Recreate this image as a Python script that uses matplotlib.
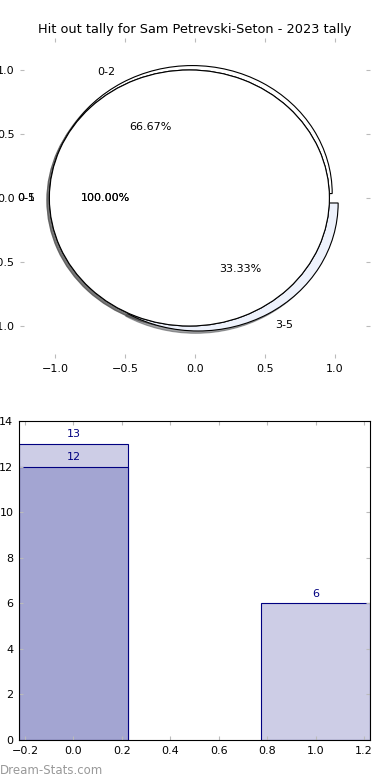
import matplotlib
matplotlib.use('Agg')
import matplotlib.pyplot as plt

# ---- data ----
title = "Hit out tally for Sam Petrevski-Seton - 2023 tally"
split_labels = ["0-2", "3-5"]
split_values = [12, 6]
split_colors = ["#ffffff", "#eef2fc"]
full_labels_a = ["0-5"]
full_values_a = [18]
full_labels_b = ["0-1"]
full_values_b = [18]
pie_ticks = [-1.0, -0.5, 0.0, 0.5, 1.0]

bar_x = [0, 1]
bar_light = [13, 6]
bar_dark_x = [0]
bar_dark = [12]
bar_xticks = [-0.2, 0.0, 0.2, 0.4, 0.6, 0.8, 1.0, 1.2]
bar_yticks = [0, 2, 4, 6, 8, 10, 12, 14]

plt.rcParams['font.family'] = ['DejaVu Sans']

W, H = 390, 780
fig = plt.figure(figsize=(W / 100, H / 100), dpi=100)

def box(l, t, r, b):
    return [l / W, 1 - b / H, (r - l) / W, (b - t) / H]

# ---- pie axes ----
ax1 = fig.add_axes(box(20, 38, 370, 358))
common = dict(autopct='%1.2f%%', shadow=dict(ox=-0.013, oy=-0.013), frame=True,
              wedgeprops=dict(edgecolor='black', linewidth=0.8),
              textprops=dict(fontsize=8))
ax1.pie(split_values, labels=split_labels, colors=split_colors,
        explode=[0.04, 0.045], **common)
ax1.pie(full_values_b, labels=full_labels_b, colors=["#ffffff"], explode=[0.04], **common)
ax1.pie(full_values_a, labels=full_labels_a, colors=["#ffffff"], explode=[0.04], **common)
ax1.set_aspect('auto')
ax1.set_xlim(-1.25, 1.25)
ax1.set_ylim(-1.25, 1.25)
ax1.set_xticks(pie_ticks)
ax1.set_yticks(pie_ticks)
for s in ax1.spines.values():
    s.set_visible(False)
ax1.tick_params(direction='in', color='#bbbbbb', length=3, labelsize=8,
                top=True, right=True, pad=4)

fig.text(195 / W, 1 - 30 / H, title, ha='center', va='center', fontsize=9.3)

# ---- bar axes ----
ax2 = fig.add_axes(box(19, 421, 370, 740))
bl = ax2.bar(bar_x, bar_light, width=0.45, color='#cdcde6', edgecolor='#000080', linewidth=0.8)
bd = ax2.bar(bar_dark_x, bar_dark, width=0.45, color='#a3a5d2', edgecolor='#000080', linewidth=0.8)
for rects, vals in ((bl, bar_light), (bd, bar_dark)):
    for r, v in zip(rects, vals):
        ax2.text(r.get_x() + r.get_width() / 2, v + 0.2, str(v), ha='center', va='bottom',
                 fontsize=8, color='#000080')
ax2.set_xlim(-0.225, 1.225)
ax2.set_ylim(0, 14)
ax2.set_xticks(bar_xticks)
ax2.set_yticks(bar_yticks)
ax2.tick_params(direction='in', color='#bbbbbb', length=3, labelsize=8,
                top=True, right=True, pad=4)

fig.text(0, 1 - 770 / H, "Dream-Stats.com", ha='left', va='center', fontsize=8.5,
         color='#999999')

fig.savefig('out.png', dpi=100)
